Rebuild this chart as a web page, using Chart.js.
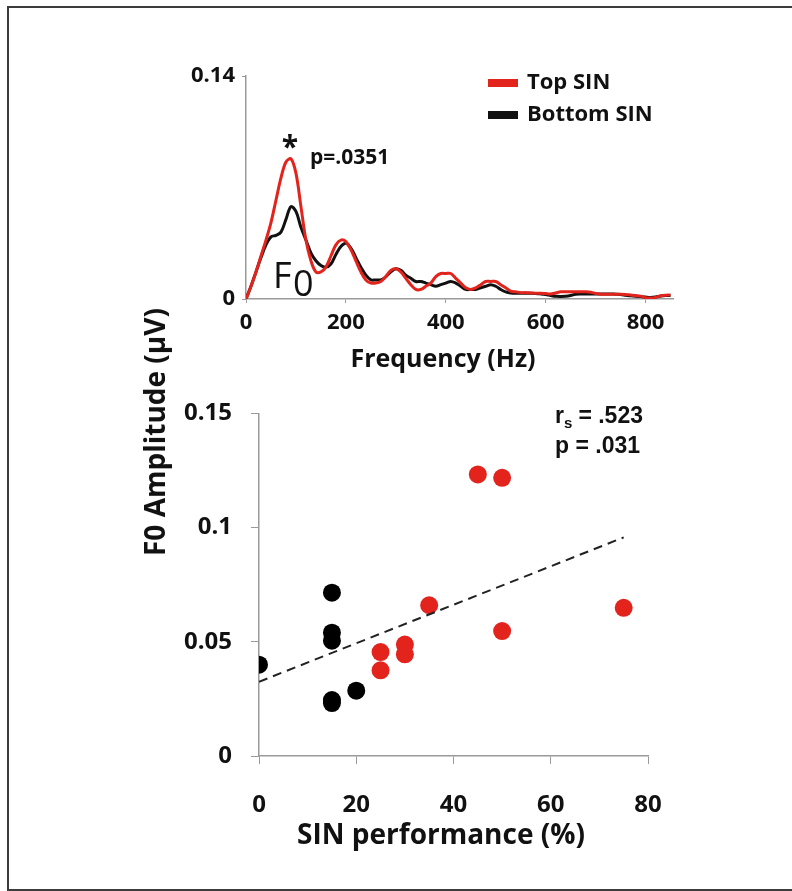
<!DOCTYPE html>
<html>
<head>
<meta charset="utf-8">
<script src="https://cdn.jsdelivr.net/npm/chart.js@4.4.1/dist/chart.umd.min.js"></script>
<style>
  html, body { margin: 0; padding: 0; background: #fff; }
  body { width: 792px; height: 891px; position: relative; overflow: hidden; font-family: "Open Sans", sans-serif; }
  #frame { position: absolute; left: 7px; top: 6px; width: 820px; height: 881px; border: 2px solid #3c3c3c; border-right: none; box-sizing: content-box; }
  #spectrumBox { position: absolute; left: 0; top: 0; width: 792px; height: 380px; }
  #scatterBox { position: absolute; left: 0; top: 380px; width: 792px; height: 511px; }
  #yTitle { position: absolute; left: 154px; top: 432px; transform: translate(-50%, -50%) rotate(-90deg); white-space: nowrap; font: bold 28px "Open Sans", sans-serif; color: #111; }
</style>
</head>
<body>
<div id="frame"></div>
<div id="spectrumBox"><canvas id="spectrum" width="792" height="380"></canvas></div>
<div id="scatterBox"><canvas id="scatter" width="792" height="511"></canvas></div>
<div id="yTitle">F0 Amplitude (µV)</div>
<script>
// spectrum (top panel)
const freqHz = [0, 10, 20, 30, 40, 50, 60, 70, 80, 90, 100, 110, 120, 130, 140, 150, 160, 170, 180, 190,
  200, 210, 220, 230, 240, 250, 260, 270, 280, 290, 300, 310, 320, 330, 340, 350, 360, 370, 380, 390,
  400, 410, 420, 430, 440, 450, 460, 470, 480, 490, 500, 510, 520, 530, 540, 550, 560, 570, 580, 590,
  600, 610, 620, 630, 640, 650, 660, 670, 680, 690, 700, 710, 720, 730, 740, 750, 760, 770, 780, 790,
  800, 810, 820, 830, 840, 850];
const topSinSpectrum = [0, 0.008, 0.017, 0.027, 0.037, 0.048, 0.062, 0.076, 0.086, 0.088,
  0.079, 0.058, 0.037, 0.024, 0.017, 0.017, 0.020, 0.027, 0.034, 0.037,
  0.036, 0.031, 0.024, 0.017, 0.012, 0.010, 0.010, 0.011, 0.014, 0.018,
  0.019, 0.017, 0.013, 0.009, 0.006, 0.006, 0.008, 0.010, 0.014, 0.016,
  0.016, 0.016, 0.013, 0.010, 0.007, 0.006, 0.007, 0.009, 0.011, 0.011,
  0.011, 0.009, 0.007, 0.005, 0.0045, 0.004, 0.004, 0.0038, 0.0036, 0.0036,
  0.0034, 0.0032, 0.0038, 0.0045, 0.0046, 0.0046, 0.0046, 0.0046, 0.0045, 0.0042,
  0.0035, 0.003, 0.003, 0.003, 0.003, 0.003, 0.0028, 0.0025, 0.0022, 0.0018,
  0.0008, 0.0006, 0.001, 0.002, 0.0024, 0.0025];
const bottomSinSpectrum = [0, 0.008, 0.017, 0.026, 0.034, 0.039, 0.040, 0.042, 0.050, 0.058,
  0.055, 0.045, 0.037, 0.029, 0.024, 0.021, 0.020, 0.022, 0.028, 0.033,
  0.035, 0.032, 0.026, 0.020, 0.015, 0.012, 0.012, 0.012, 0.014, 0.017,
  0.019, 0.018, 0.015, 0.013, 0.011, 0.011, 0.010, 0.009, 0.008, 0.009,
  0.010, 0.011, 0.010, 0.008, 0.006, 0.006, 0.006, 0.007, 0.008, 0.009,
  0.008, 0.006, 0.0045, 0.0038, 0.0036, 0.0036, 0.0036, 0.0036, 0.0035, 0.0032,
  0.0028, 0.0022, 0.0017, 0.0016, 0.0017, 0.0022, 0.003, 0.0032, 0.0032, 0.0032,
  0.0032, 0.0032, 0.0032, 0.0032, 0.003, 0.0028, 0.0024, 0.002, 0.0018, 0.0015,
  0.0012, 0.001, 0.0012, 0.0018, 0.0022, 0.0022];
const freqTicks = [0, 200, 400, 600, 800];
const ampTicks = [0, 0.14];

// scatter (bottom panel)
const bottomSinPerf = [0, 15, 15, 15, 15, 15, 20];
const bottomSinF0 = [0.040, 0.0715, 0.054, 0.0505, 0.0245, 0.0232, 0.0286];
const topSinPerf = [25, 25, 30, 30, 35, 45, 50, 50, 75];
const topSinF0 = [0.0455, 0.0375, 0.0488, 0.0445, 0.066, 0.1233, 0.1218, 0.0547, 0.0649];
const fitPerf = [0, 75];
const fitF0 = [0.0325, 0.0957];
const perfTicks = [0, 20, 40, 60, 80];
const f0Ticks = [0, 0.05, 0.1, 0.15];

const RED = '#e3241d';
const BLACK = '#111111';
const AXIS = '#9a9a9a';
const FONT = '"Open Sans"';

function pairs(xs, ys) {
  return xs.map((x, i) => ({ x: x, y: ys[i] }));
}

// legend, notes and x title of the spectrum panel
const spectrumNotes = {
  id: 'spectrumNotes',
  afterDraw(chart) {
    const ctx = chart.ctx;
    const xs = chart.scales.x, ys = chart.scales.y;
    ctx.save();
    chart.data.datasets.forEach((ds, i) => {
      const y = 83 + i * 32;
      ctx.fillStyle = ds.borderColor;
      ctx.fillRect(488, y - 4, 30, 8);
      ctx.fillStyle = BLACK;
      ctx.font = 'bold 22px ' + FONT;
      ctx.textBaseline = 'middle';
      ctx.fillText(ds.label, 527, y);
    });
    ctx.fillStyle = BLACK;
    ctx.textAlign = 'center';
    ctx.textBaseline = 'middle';
    ctx.font = 'bold 25px ' + FONT;
    ctx.fillText('Frequency (Hz)', 443, 360);
    ctx.font = 'bold 30px ' + FONT;
    ctx.fillText('*', xs.getPixelForValue(88), ys.getPixelForValue(0.088) - 10);
    ctx.textAlign = 'left';
    ctx.font = 'bold 21px ' + FONT;
    ctx.fillText('p=.0351', xs.getPixelForValue(128), ys.getPixelForValue(0.0895) + 2);
    ctx.font = '36px ' + FONT;
    ctx.textBaseline = 'alphabetic';
    ctx.fillText('F', 273, 288);
    ctx.fillText('0', 293, 296);
    ctx.restore();
  }
};

new Chart(document.getElementById('spectrum'), {
  type: 'line',
  data: {
    datasets: [
      { label: 'Top SIN', data: pairs(freqHz, topSinSpectrum), borderColor: RED, borderWidth: 3, pointRadius: 0, tension: 0.35 },
      { label: 'Bottom SIN', data: pairs(freqHz, bottomSinSpectrum), borderColor: BLACK, borderWidth: 3, pointRadius: 0, tension: 0.35 }
    ]
  },
  options: {
    responsive: false,
    animation: false,
    layout: { padding: { left: 146, right: 119, top: 76, bottom: 0 } },
    plugins: { legend: { display: false }, tooltip: { enabled: false } },
    scales: {
      x: {
        type: 'linear', min: 0, max: 855,
        afterBuildTicks: s => { s.ticks = freqTicks.map(v => ({ value: v })); },
        afterFit: s => { s.height = 81; },
        grid: { drawOnChartArea: false, tickLength: 4, tickColor: AXIS },
        border: { color: AXIS, width: 1.5 },
        ticks: { color: BLACK, font: { family: FONT, size: 22, weight: 'bold' }, padding: 7, maxRotation: 0, callback: v => String(v) }
      },
      y: {
        min: 0, max: 0.14,
        afterBuildTicks: s => { s.ticks = ampTicks.map(v => ({ value: v })); },
        afterFit: s => { s.width = 100; },
        grid: { drawOnChartArea: false, tickLength: 4, tickColor: AXIS },
        border: { color: AXIS, width: 1.5 },
        ticks: { color: BLACK, font: { family: FONT, size: 22, weight: 'bold' }, padding: 7, callback: v => String(v) }
      }
    }
  },
  plugins: [spectrumNotes]
});

const scatterNotes = {
  id: 'scatterNotes',
  afterDraw(chart) {
    const ctx = chart.ctx;
    ctx.save();
    ctx.fillStyle = BLACK;
    ctx.textAlign = 'center';
    ctx.textBaseline = 'middle';
    ctx.font = 'bold 28px ' + FONT;
    ctx.fillText('SIN performance (%)', 441, 456);
    ctx.textAlign = 'left';
    ctx.textBaseline = 'alphabetic';
    ctx.font = 'bold 23px "Liberation Sans"';
    ctx.fillText('r', 555, 43);
    ctx.font = 'bold 15px "Liberation Sans"';
    ctx.fillText('s', 564, 48);
    ctx.font = 'bold 23px "Liberation Sans"';
    ctx.fillText(' = .523', 572, 43);
    ctx.fillText('p = .031', 555, 73);
    ctx.restore();
  }
};

new Chart(document.getElementById('scatter'), {
  type: 'scatter',
  data: {
    datasets: [
      { type: 'line', label: 'fit', data: pairs(fitPerf, fitF0), borderColor: '#222', borderWidth: 2, borderDash: [9, 6], pointRadius: 0, fill: false, order: 0 },
      { label: 'Bottom SIN', data: pairs(bottomSinPerf, bottomSinF0), backgroundColor: '#000', borderWidth: 0, pointRadius: 9, order: 1 },
      { label: 'Top SIN', data: pairs(topSinPerf, topSinF0), backgroundColor: RED, borderWidth: 0, pointRadius: 9, order: 1 }
    ]
  },
  options: {
    responsive: false,
    animation: false,
    layout: { padding: { left: 159, right: 144, top: 22, bottom: 0 } },
    plugins: { legend: { display: false }, tooltip: { enabled: false } },
    scales: {
      x: {
        type: 'linear', min: 0, max: 80,
        afterBuildTicks: s => { s.ticks = perfTicks.map(v => ({ value: v })); },
        afterFit: s => { s.height = 135; },
        grid: { drawOnChartArea: false, tickLength: 8, tickColor: AXIS },
        border: { color: AXIS, width: 1.5 },
        ticks: { color: BLACK, font: { family: FONT, size: 24, weight: 'bold' }, padding: 27, maxRotation: 0, callback: v => String(v) }
      },
      y: {
        min: 0, max: 0.15,
        afterBuildTicks: s => { s.ticks = f0Ticks.map(v => ({ value: v })); },
        afterFit: s => { s.width = 100; },
        grid: { drawOnChartArea: false, tickLength: 8, tickColor: AXIS },
        border: { color: AXIS, width: 1.5 },
        ticks: { color: BLACK, font: { family: FONT, size: 24, weight: 'bold' }, padding: 19, callback: v => String(v) }
      }
    }
  },
  plugins: [scatterNotes]
});
</script>
</body>
</html>
